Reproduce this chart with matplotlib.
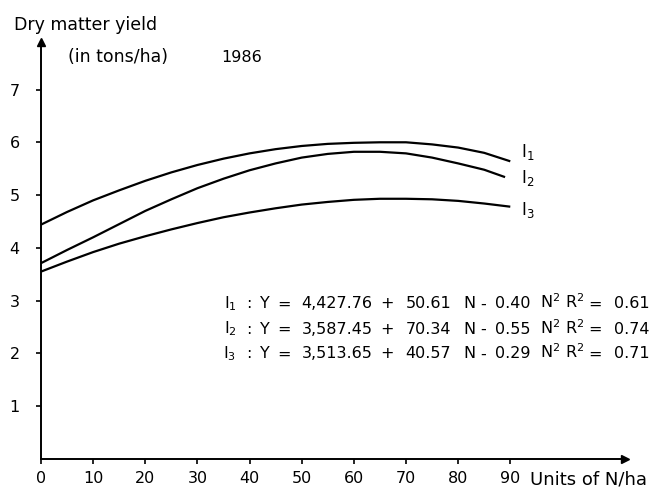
import matplotlib
matplotlib.use("Agg")
import matplotlib.pyplot as plt

plt.rcParams["font.family"] = ["DejaVu Sans"]
plt.rcParams["mathtext.fontset"] = "dejavusans"

# Nitrogen rate (units of N/ha) and dry matter yield (tons/ha) per irrigation level
n_units_i1 = [0, 5, 10, 15, 20, 25, 30, 35, 40, 45, 50, 55, 60, 65, 70, 75, 80, 85, 90]
yield_i1 = [4.44, 4.68, 4.90, 5.09, 5.27, 5.43, 5.57, 5.69, 5.79, 5.87,
            5.93, 5.97, 5.99, 6.00, 6.00, 5.96, 5.90, 5.80, 5.64]

n_units_i2 = [0, 5, 10, 15, 20, 25, 30, 35, 40, 45, 50, 55, 60, 65, 70, 75, 80, 85, 89]
yield_i2 = [3.71, 3.96, 4.20, 4.45, 4.70, 4.92, 5.13, 5.31, 5.47, 5.60,
            5.71, 5.78, 5.82, 5.82, 5.79, 5.71, 5.60, 5.48, 5.34]

n_units_i3 = [0, 5, 10, 15, 20, 25, 30, 35, 40, 45, 50, 55, 60, 65, 70, 75, 80, 85, 90]
yield_i3 = [3.55, 3.74, 3.92, 4.08, 4.22, 4.35, 4.47, 4.58, 4.67, 4.75,
            4.82, 4.87, 4.91, 4.93, 4.93, 4.92, 4.89, 4.84, 4.78]

x_ticks = [0, 10, 20, 30, 40, 50, 60, 70, 80, 90]
y_ticks = [1, 2, 3, 4, 5, 6, 7]

# Fitted quadratic response Y = a + b N - c N^2 (kg/ha) for each level
curve_names = [r"I$_1$", r"I$_2$", r"I$_3$"]
coef_a = ["4,427.76", "3,587.45", "3,513.65"]
coef_b = ["50.61", "70.34", "40.57"]
coef_c = ["0.40", "0.55", "0.29"]
r_squared = ["0.61", "0.74", "0.71"]

W, H = 654, 488
fig = plt.figure(figsize=(W / 100, H / 100), dpi=100)
ax = fig.add_axes([41 / W, (H - 459) / H, (625 - 41) / W, (459 - 42) / H])
ax.set_xlim(0, 112)
ax.set_ylim(0, 7.9)

lw = 1.6
for xs, ys in [(n_units_i1, yield_i1), (n_units_i2, yield_i2), (n_units_i3, yield_i3)]:
    ax.plot(xs, ys, color="black", lw=lw, solid_capstyle="butt",
            solid_joinstyle="round")

for s in ["top", "right"]:
    ax.spines[s].set_visible(False)
for s in ["left", "bottom"]:
    ax.spines[s].set_linewidth(1.4)

# arrow heads on the axes
ax.plot(1, 0, ">", color="black", ms=6, transform=ax.transAxes, clip_on=False)
ax.plot(0, 1, "^", color="black", ms=6, transform=ax.transAxes, clip_on=False)

ax.set_xticks(x_ticks)
ax.set_xticklabels([str(v) for v in x_ticks])
ax.set_yticks(y_ticks)
ax.set_yticklabels([str(v) for v in y_ticks])
ax.tick_params(axis="both", direction="out", length=3.8, width=1.2,
               labelsize=11.5, colors="black")
ax.tick_params(axis="x", pad=4.5)
ax.tick_params(axis="y", pad=11.5)

# curve labels at the right end of each curve
for name, y in zip(curve_names, [5.72, 5.22, 4.63]):
    ax.text(92.1, y, name, fontsize=12, va="baseline", ha="left")

# regression equations, one token per column (column centres in pixels)
token_cx = [230, 249, 265, 284, 337, 387.5, 428.5, 469, 483.5, 512.5, 550, 575, 595.5, 632]
for i in range(3):
    tokens = [curve_names[i], ":", "Y", "=", coef_a[i], "+", coef_b[i], "N",
              "-", coef_c[i], r"N$^2$", r"R$^2$", "=", r_squared[i]]
    base = 1 - (308.5 + 25 * i) / H
    for cx, tok in zip(token_cx, tokens):
        fig.text(cx / W, base, tok, fontsize=11.5, va="baseline", ha="center")

fig.text(14 / W, 1 - 30 / H, "Dry matter yield", fontsize=12.5, va="baseline", ha="left")
fig.text(68 / W, 1 - 62 / H, "(in tons/ha)", fontsize=12.5, va="baseline", ha="left")
fig.text(221 / W, 1 - 62 / H, "1986", fontsize=11.5, va="baseline", ha="left")
fig.text(530 / W, 1 - 484 / H, "Units of N/ha", fontsize=13, va="baseline", ha="left")

fig.savefig("out.png", dpi=100)
